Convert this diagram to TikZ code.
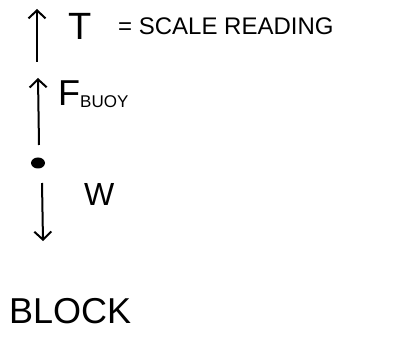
\documentclass[tikz,border=0pt]{standalone}
\usepackage{fontspec}
\setmainfont{Liberation Sans}
\usetikzlibrary{arrows.meta}
\begin{document}
\begin{tikzpicture}[x=1pt,y=-1pt,
  force/.style={line width=2pt,-{Straight Barb[length=8pt,width=17pt,line width=2pt]}},
  lbl/.style={inner sep=0pt,anchor=west}]
  \useasboundingbox (0,0) rectangle (393,339);
  % point body
  \fill (38,163) circle [x radius=7pt, y radius=5.5pt];
  % force arrows
  \coordinate (tTail) at (37,62);  \coordinate (tTip) at (37,9);
  \coordinate (bTail) at (39,145); \coordinate (bTip) at (38,78);
  \coordinate (wTail) at (42,183); \coordinate (wTip) at (43,241);
  \draw[force] (tTail) -- (tTip);
  \draw[force] (bTail) -- (bTip);
  \draw[force] (wTail) -- (wTip);
  % labels
  \node[lbl,font=\fontsize{38}{38}\selectfont] (tLbl) at (68,26) {T};
  \node[lbl,font=\fontsize{24}{24}\selectfont] (scale) at (118,26) {= SCALE READING};
  \node[lbl,font=\fontsize{36}{36}\selectfont] (fLbl) at (58,94)
    {F\raisebox{-2pt}{\fontsize{17}{17}\selectfont BUOY}};
  \node[lbl,font=\fontsize{32}{32}\selectfont] (wLbl) at (84,194) {W};
  \node[lbl,font=\fontsize{36}{36}\selectfont] (block) at (9,311) {BLOCK};
\end{tikzpicture}
\end{document}
